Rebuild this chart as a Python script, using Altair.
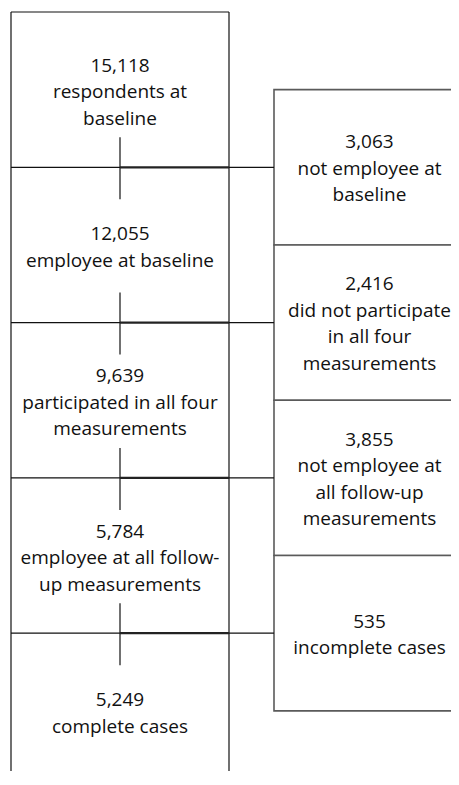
import altair as alt
import pandas as pd

# ---- data ----
left_counts = ["15,118", "12,055", "9,639", "5,784", "5,249"]
left_labels = [
    "respondents at\nbaseline",
    "employee at baseline",
    "participated in all four\nmeasurements",
    "employee at all follow-\nup measurements",
    "complete cases",
]
right_counts = ["3,063", "2,416", "3,855", "535"]
right_labels = [
    "not employee at\nbaseline",
    "did not participate\nin all four\nmeasurements",
    "not employee at\nall follow-up\nmeasurements",
    "incomplete cases",
]

# ---- layout (in box units) ----
ROW_PX, COL_PX = 155.3, 218.0
TOP_PX, LEFT_PX = 12.0, 11.0
W, H = 443, 763
LINE_H = 26.5
R_X0, R_X1 = (274 - LEFT_PX) / COL_PX, (465 - LEFT_PX) / COL_PX
STUB_UP, STUB_DN = 30 / ROW_PX, 32 / ROW_PX

x_sc = alt.Scale(domain=[(8 - LEFT_PX) / COL_PX, (8 + W - LEFT_PX) / COL_PX], range=[0, W], nice=False, zero=False)
y_sc = alt.Scale(domain=[(8 - TOP_PX) / ROW_PX, (8 + H - TOP_PX) / ROW_PX], range=[0, H], nice=False, zero=False)

n = len(left_counts)
texts = []
def add_text(xc, yc, s):
    k = s.count("\n")
    texts.append({"x": xc, "y": yc - k / 2 * LINE_H / ROW_PX, "t": s})

for i, (c, l) in enumerate(zip(left_counts, left_labels)):
    add_text(0.5, i + 0.5 + 2.5 / ROW_PX, c + "\n" + l)
for i, (c, l) in enumerate(zip(right_counts, right_labels)):
    add_text((R_X0 + R_X1) / 2, i + 1.0 + 0.01, c + "\n" + l)
text_df = pd.DataFrame(texts)

thin, thick = [], []
thin.append({"x": 0, "x2": 1, "y": 0, "y2": 0})
thin.append({"x": 0, "x2": 0, "y": 0, "y2": n + 1})
thin.append({"x": 1, "x2": 1, "y": 0, "y2": n + 1})
for k in range(1, n):
    thin.append({"x": 0, "x2": 0.5, "y": k, "y2": k})
    thin.append({"x": 1, "x2": R_X0, "y": k, "y2": k})
    thin.append({"x": 0.5, "x2": 0.5, "y": k - STUB_UP, "y2": k + STUB_DN})
    thick.append({"x": 0.5, "x2": 1, "y": k, "y2": k})
thin_df = pd.DataFrame(thin)
thick_df = pd.DataFrame(thick)

right_df = pd.DataFrame([
    {"x": R_X0, "x2": R_X1, "y": i + 0.5, "y2": i + 1.5} for i in range(len(right_counts))
])

enc = dict(
    x=alt.X("x:Q", scale=x_sc, axis=None),
    x2="x2:Q",
    y=alt.Y("y:Q", scale=y_sc, axis=None),
    y2="y2:Q",
)

right_boxes = alt.Chart(right_df).mark_rect(
    fill="white", stroke="#5a5a5a", strokeWidth=1.6, clip=True
).encode(**enc)

thin_lines = alt.Chart(thin_df).mark_rule(color="#111111", strokeWidth=1.2, clip=True).encode(**enc)
thick_lines = alt.Chart(thick_df).mark_rule(color="#222222", strokeWidth=2.2, clip=True).encode(**enc)

labels = alt.Chart(text_df).mark_text(
    font="Open Sans", fontSize=19, lineHeight=LINE_H, baseline="middle",
    align="center", lineBreak="\n", color="#111111"
).encode(
    x=alt.X("x:Q", scale=x_sc, axis=None),
    y=alt.Y("y:Q", scale=y_sc, axis=None),
    text="t:N",
)

chart = alt.layer(right_boxes, thin_lines, thick_lines, labels).properties(
    width=W, height=H, padding=0, autosize="none", background="white"
).configure_view(stroke=None)

chart.save("out.html", embed_options={"renderer": "svg", "actions": False})
